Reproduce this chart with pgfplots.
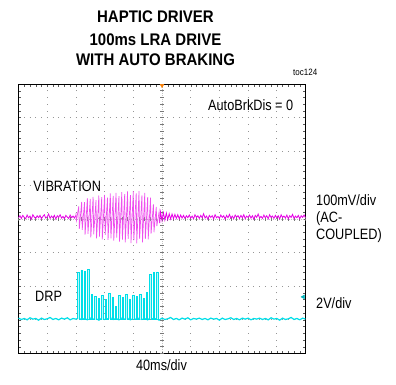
\documentclass[border=0pt]{standalone}
\usepackage{pgfplots}
\pgfplotsset{compat=1.18}
\usepackage{fontspec}
\setmainfont{Liberation Sans}
\definecolor{vib}{RGB}{230,0,230}
\definecolor{vibl}{RGB}{238,80,238}
\definecolor{drp}{RGB}{0,222,232}
\definecolor{drpl}{RGB}{185,250,252}
\definecolor{gridc}{RGB}{150,150,150}
\newcommand{\lbl}[1]{\scalebox{1}[1.18]{\fontsize{12.7bp}{15bp}\selectfont #1}}
\newcommand{\ttl}[1]{\scalebox{1}[1.12]{\fontsize{15bp}{18bp}\selectfont\bfseries #1}}
\begin{document}
\begin{tikzpicture}
\begin{axis}[at={(0,0)}, anchor=south west, scale only axis,
  width=287bp, height=269.5bp,
  xmin=0, xmax=10, ymin=-4, ymax=4,
  xtick={0,...,10}, ytick={-4,...,4},
  minor x tick num=4, minor y tick num=4,
  xticklabels={}, yticklabels={},
  tick align=inside, major tick length=2.5bp, minor tick length=2.5bp,
  tick style={black!65, line width=0.4pt},
  xmajorgrids, ymajorgrids,
  x grid style={gridc, line width=0.8bp, dash pattern=on 0.8bp off 5.9375bp, dash phase=0.4bp},
  y grid style={gridc, line width=0.8bp, dash pattern=on 0.8bp off 4.94bp, dash phase=0.4bp},
  axis line style={black, line width=0.8pt}]
% centre crosshair
\draw[gridc!60, line width=0.4pt, dash pattern=on 1bp off 1bp] (axis cs:5,-4) -- (axis cs:5,4);
\draw[gridc!80!black, line width=3.5bp, dash pattern=on 0.6bp off 6.1375bp, dash phase=0.3bp] (axis cs:5,-4) -- (axis cs:5,4);
\draw[gridc!60, line width=0.4pt, dash pattern=on 1bp off 1bp] (axis cs:0,0) -- (axis cs:10,0);
\draw[gridc!80!black, line width=3.5bp, dash pattern=on 0.6bp off 5.14bp, dash phase=0.3bp] (axis cs:0,0) -- (axis cs:10,0);

% VIBRATION baseline before burst
\addplot[vib, line width=0.8pt] coordinates {
(0.00,0.03)(0.05,0.09)(0.10,0.01)(0.15,0.10)(0.20,0.04)(0.25,0.00)(0.30,0.11)(0.35,0.03)(0.40,0.08)(0.45,-0.01)
(0.50,0.12)(0.55,0.05)(0.60,0.01)(0.65,0.09)(0.70,0.03)(0.75,0.10)(0.80,0.00)(0.85,0.07)(0.90,0.12)(0.95,0.02)
(1.00,0.06)(1.05,0.14)(1.10,0.01)(1.15,0.08)(1.20,0.03)(1.25,0.10)(1.30,-0.01)(1.35,0.09)(1.40,0.04)(1.45,0.12)
(1.50,0.02)(1.55,0.07)(1.60,0.00)(1.65,0.10)(1.70,0.05)(1.75,0.01)(1.80,0.11)(1.85,0.03)(1.90,0.08)(1.95,0.02)(2.00,0.10)};
% VIBRATION burst
\addplot[vibl, line width=0.7pt] coordinates {
(2.00,0.17)(2.02,-0.05)(2.10,0.37)(2.12,-0.30)(2.20,0.50)(2.22,-0.33)(2.30,0.49)(2.32,-0.47)
(2.40,0.61)(2.42,-0.45)(2.50,0.59)(2.52,-0.55)(2.60,0.65)(2.62,-0.46)(2.70,0.55)(2.72,-0.58)
(2.80,0.69)(2.82,-0.53)(2.90,0.64)(2.92,-0.61)(3.00,0.71)(3.02,-0.48)(3.10,0.63)(3.12,-0.63)
(3.20,0.75)(3.22,-0.58)(3.30,0.68)(3.32,-0.65)(3.40,0.77)(3.42,-0.56)(3.50,0.67)(3.52,-0.68)
(3.60,0.79)(3.62,-0.62)(3.70,0.73)(3.72,-0.70)(3.80,0.81)(3.82,-0.60)(3.90,0.70)(3.92,-0.72)
(4.00,0.82)(4.02,-0.64)(4.10,0.75)(4.12,-0.73)(4.20,0.82)(4.22,-0.60)(4.30,0.69)(4.32,-0.70)
(4.40,0.77)(4.42,-0.60)(4.50,0.64)(4.52,-0.61)(4.60,0.63)(4.62,-0.44)(4.70,0.43)(4.72,-0.40)
(4.80,0.35)(4.82,-0.22)(4.90,0.21)(4.92,-0.13)};
% VIBRATION after burst
\addplot[vib, line width=0.8pt] coordinates {
(4.92,-0.13)(4.95,0.20)(5.00,-0.05)(5.05,0.18)(5.10,-0.04)(5.15,0.17)(5.20,-0.02)(5.25,0.15)(5.30,-0.01)(5.35,0.14)
(5.40,0.00)(5.45,0.13)(5.50,0.01)(5.55,0.12)(5.60,0.00)(5.65,0.11)(5.70,0.02)(5.75,0.10)(5.80,0.01)(5.85,0.09)
(5.90,0.03)(5.95,0.11)(6.00,0.02)(6.05,0.08)(6.10,0.00)(6.15,0.12)(6.20,0.04)(6.25,0.09)(6.30,0.01)(6.35,0.10)
(6.40,0.03)(6.45,0.15)(6.50,0.02)(6.55,0.08)(6.60,-0.01)(6.65,0.10)(6.70,0.04)(6.75,0.09)(6.80,0.00)(6.85,0.12)
(6.90,0.03)(6.95,0.07)(7.00,0.01)(7.05,0.11)(7.10,0.04)(7.15,0.09)(7.20,-0.01)(7.25,0.10)(7.30,0.03)(7.35,0.13)
(7.40,0.02)(7.45,0.08)(7.50,0.00)(7.55,0.11)(7.60,0.05)(7.65,0.09)(7.70,0.01)(7.75,0.10)(7.80,0.03)(7.85,0.12)
(7.90,0.00)(7.95,0.08)(8.00,0.04)(8.05,0.11)(8.10,0.02)(8.15,0.09)(8.20,-0.01)(8.25,0.10)(8.30,0.04)(8.35,0.14)
(8.40,0.02)(8.45,0.07)(8.50,0.01)(8.55,0.11)(8.60,0.03)(8.65,0.09)(8.70,0.00)(8.75,0.12)(8.80,0.04)(8.85,0.08)
(8.90,0.01)(8.95,0.10)(9.00,0.03)(9.05,0.09)(9.10,-0.01)(9.15,0.12)(9.20,0.04)(9.25,0.08)(9.30,0.02)(9.35,0.11)
(9.40,0.00)(9.45,0.09)(9.50,0.04)(9.55,0.13)(9.60,0.01)(9.65,0.08)(9.70,0.03)(9.75,0.10)(9.80,0.00)(9.85,0.09)
(9.90,0.04)(9.95,0.11)(10.00,0.03)};

% DRP baseline
\addplot[drp, line width=1.2pt] coordinates {
(0.0,-2.95)(0.1,-2.99)(0.2,-2.96)(0.3,-3.00)(0.4,-2.94)(0.5,-2.98)(0.6,-2.96)(0.7,-3.01)(0.8,-2.95)(0.9,-2.99)
(1.0,-2.97)(1.1,-2.93)(1.2,-2.99)(1.3,-2.96)(1.4,-3.00)(1.5,-2.95)(1.6,-2.98)(1.7,-2.94)(1.8,-3.00)(1.9,-2.96)
(2.0,-2.98)(2.1,-2.95)(2.2,-2.99)(2.3,-2.96)(2.4,-3.00)(2.5,-2.95)(2.6,-2.98)(2.7,-2.96)(2.8,-3.01)(2.9,-2.95)
(3.0,-2.99)(3.1,-2.97)(3.2,-2.94)(3.3,-2.99)(3.4,-2.96)(3.5,-3.00)(3.6,-2.95)(3.7,-2.98)(3.8,-2.95)(3.9,-3.00)
(4.0,-2.96)(4.1,-2.98)(4.2,-2.95)(4.3,-2.99)(4.4,-2.96)(4.5,-3.00)(4.6,-2.94)(4.7,-2.98)(4.8,-2.96)(4.9,-3.01)
(5.0,-2.95)(5.1,-2.99)(5.2,-2.97)(5.3,-2.93)(5.4,-2.99)(5.5,-2.96)(5.6,-3.00)(5.7,-2.95)(5.8,-2.98)(5.9,-2.94)
(6.0,-3.00)(6.1,-2.96)(6.2,-2.98)(6.3,-2.95)(6.4,-2.99)(6.5,-2.96)(6.6,-3.00)(6.7,-2.95)(6.8,-2.98)(6.9,-2.96)
(7.0,-3.01)(7.1,-2.95)(7.2,-2.99)(7.3,-2.97)(7.4,-2.94)(7.5,-2.99)(7.6,-2.96)(7.7,-3.00)(7.8,-2.95)(7.9,-2.98)
(8.0,-2.95)(8.1,-3.00)(8.2,-2.96)(8.3,-2.98)(8.4,-2.95)(8.5,-2.99)(8.6,-2.96)(8.7,-3.00)(8.8,-2.94)(8.9,-2.98)
(9.0,-2.96)(9.1,-3.01)(9.2,-2.95)(9.3,-2.99)(9.4,-2.97)(9.5,-2.93)(9.6,-2.99)(9.7,-2.96)(9.8,-3.00)(9.9,-2.95)(10.0,-2.98)};
% DRP pulses
\addplot[drp, line width=0.4pt, fill=drpl] coordinates {
(2.05,-2.97)(2.05,-1.60)(2.10,-1.60)(2.10,-2.97)
(2.17,-2.97)(2.17,-1.52)(2.22,-1.52)(2.22,-2.97)
(2.29,-2.97)(2.29,-1.55)(2.34,-1.55)(2.34,-2.97)
(2.41,-2.97)(2.41,-1.50)(2.46,-1.50)(2.46,-2.97)
(2.53,-2.97)(2.53,-2.25)(2.58,-2.25)(2.58,-2.97)
(2.65,-2.97)(2.65,-2.30)(2.70,-2.30)(2.70,-2.97)
(2.77,-2.97)(2.77,-2.36)(2.82,-2.36)(2.82,-2.97)
(2.89,-2.97)(2.89,-2.28)(2.94,-2.28)(2.94,-2.97)
(3.01,-2.97)(3.01,-2.40)(3.06,-2.40)(3.06,-2.97)
(3.13,-2.97)(3.13,-2.20)(3.18,-2.20)(3.18,-2.97)
(3.25,-2.97)(3.25,-2.32)(3.30,-2.32)(3.30,-2.97)
(3.37,-2.97)(3.37,-2.60)(3.42,-2.60)(3.42,-2.97)
(3.49,-2.97)(3.49,-2.27)(3.54,-2.27)(3.54,-2.97)
(3.61,-2.97)(3.61,-2.34)(3.66,-2.34)(3.66,-2.97)
(3.73,-2.97)(3.73,-2.25)(3.78,-2.25)(3.78,-2.97)
(3.85,-2.97)(3.85,-2.38)(3.90,-2.38)(3.90,-2.97)
(3.97,-2.97)(3.97,-2.28)(4.02,-2.28)(4.02,-2.97)
(4.09,-2.97)(4.09,-2.30)(4.14,-2.30)(4.14,-2.97)
(4.21,-2.97)(4.21,-2.24)(4.26,-2.24)(4.26,-2.97)
(4.33,-2.97)(4.33,-2.36)(4.38,-2.36)(4.38,-2.97)
(4.45,-2.97)(4.45,-2.18)(4.50,-2.18)(4.50,-2.97)
(4.57,-2.97)(4.57,-1.66)(4.62,-1.66)(4.62,-2.97)
(4.69,-2.97)(4.69,-1.60)(4.74,-1.60)(4.74,-2.97)
(4.81,-2.97)(4.81,-1.58)(4.86,-1.58)(4.86,-2.97)};

% scope markers
\addplot[only marks, mark=triangle*, mark size=2.2bp, color=orange, mark options={rotate=180}] coordinates {(5,3.96)};
\addplot[only marks, mark=triangle*, mark size=2.2bp, color=drp!80!black, mark options={rotate=90}] coordinates {(9.92,-2.32)};
\end{axis}
\begin{scope}[shift={(-18.5bp,353.5bp)}, x=1bp, y=-1bp]
\path[use as bounding box] (0,0) rectangle (396,385);
\node[anchor=base, inner sep=0pt] at (155.5,22.7) {\ttl{HAPTIC DRIVER}};
\node[anchor=base, inner sep=0pt] at (155.5,45.0) {\ttl{100ms LRA DRIVE}};
\node[anchor=base, inner sep=0pt] at (155.5,65.7) {\ttl{WITH AUTO BRAKING}};
\node[anchor=base west, inner sep=0pt] at (293,75) {\scalebox{1}[1.15]{\fontsize{8bp}{10bp}\selectfont toc124}};
\node[anchor=base west, inner sep=0pt] at (208,110) {\lbl{AutoBrkDis = 0}};
\node[anchor=base west, inner sep=0pt] at (33.3,191.7) {\lbl{VIBRATION}};
\node[anchor=base west, inner sep=0pt] at (35,301.7) {\lbl{DRP}};
\node[anchor=base west, inner sep=0pt] at (316,205.8) {\lbl{100mV/div}};
\node[anchor=base west, inner sep=0pt] at (316,222.8) {\lbl{(AC-}};
\node[anchor=base west, inner sep=0pt] at (316,239.8) {\lbl{COUPLED)}};
\node[anchor=base west, inner sep=0pt] at (316,308.3) {\lbl{2V/div}};
\node[anchor=base, inner sep=0pt] at (161.5,370) {\lbl{40ms/div}};
\end{scope}
\end{tikzpicture}
\end{document}
